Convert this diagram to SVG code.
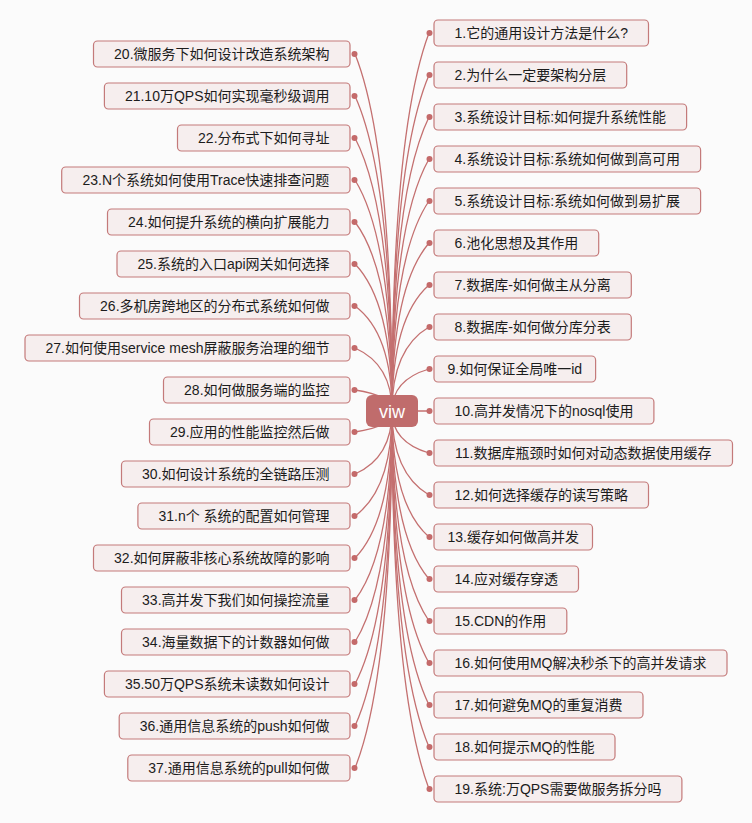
<svg xmlns="http://www.w3.org/2000/svg" width="752" height="823" viewBox="0 0 752 823">
<style>
.bg{fill:#fbfbfb}
.n rect{fill:#f6eeee;stroke:#c47a7a;stroke-width:1.2}
.n text{font-family:"Liberation Sans","Noto Sans CJK SC",sans-serif;font-size:14px;fill:#1c1c1c;text-anchor:middle}
.c path{fill:none;stroke:#c47070;stroke-width:1.3}
.c circle{fill:#c46a6a}
#root rect{fill:#c06c6c}
#root text{font-family:"Liberation Sans","Noto Sans CJK SC",sans-serif;font-size:18px;fill:#ffffff;text-anchor:middle}
</style>
<rect class="bg" x="0" y="0" width="752" height="823"/>
<g id="connectors" class="c">
<path d="M392,411 Q392,131.3 429,33"/>
<path d="M392,411 Q392,162.4 429,75"/>
<path d="M392,411 Q392,193.5 429,117"/>
<path d="M392,411 Q392,224.6 429,159"/>
<path d="M392,411 Q392,255.5 429,201"/>
<path d="M392,411 Q392,286.6 429,243"/>
<path d="M392,411 Q392,317.7 429,285"/>
<path d="M392,411 Q392,348.8 429,327"/>
<path d="M392,411 Q392,379.9 429,369"/>
<path d="M392,411 L429,411"/>
<path d="M392,411 Q392,442.1 429,453"/>
<path d="M392,411 Q392,473.2 429,495"/>
<path d="M392,411 Q392,504.3 429,537"/>
<path d="M392,411 Q392,535.4 429,579"/>
<path d="M392,411 Q392,566.5 429,621"/>
<path d="M392,411 Q392,597.6 429,663"/>
<path d="M392,411 Q392,628.7 429,705"/>
<path d="M392,411 Q392,659.8 429,747"/>
<path d="M392,411 Q392,690.7 429,789"/>
<path d="M392,411 Q392,146.8 355,54"/>
<path d="M392,411 Q392,177.9 355,96"/>
<path d="M392,411 Q392,209 355,138"/>
<path d="M392,411 Q392,240.1 355,180"/>
<path d="M392,411 Q392,271.2 355,222"/>
<path d="M392,411 Q392,302.3 355,264"/>
<path d="M392,411 Q392,333.4 355,306"/>
<path d="M392,411 Q392,364.5 355,348"/>
<path d="M392,411 Q392,395.5 355,390"/>
<path d="M392,411 Q392,426.6 355,432"/>
<path d="M392,411 Q392,457.7 355,474"/>
<path d="M392,411 Q392,488.8 355,516"/>
<path d="M392,411 Q392,519.9 355,558"/>
<path d="M392,411 Q392,551 355,600"/>
<path d="M392,411 Q392,582.1 355,642"/>
<path d="M392,411 Q392,613.2 355,684"/>
<path d="M392,411 Q392,644.3 355,726"/>
<path d="M392,411 Q392,675.4 355,768"/>
<circle cx="429.5" cy="33" r="3"/><circle cx="429.5" cy="75" r="3"/><circle cx="429.5" cy="117" r="3"/><circle cx="429.5" cy="159" r="3"/><circle cx="429.5" cy="201" r="3"/><circle cx="429.5" cy="243" r="3"/><circle cx="429.5" cy="285" r="3"/><circle cx="429.5" cy="327" r="3"/><circle cx="429.5" cy="369" r="3"/><circle cx="429.5" cy="411" r="3"/><circle cx="429.5" cy="453" r="3"/><circle cx="429.5" cy="495" r="3"/><circle cx="429.5" cy="537" r="3"/><circle cx="429.5" cy="579" r="3"/><circle cx="429.5" cy="621" r="3"/><circle cx="429.5" cy="663" r="3"/><circle cx="429.5" cy="705" r="3"/><circle cx="429.5" cy="747" r="3"/><circle cx="429.5" cy="789" r="3"/>
<circle cx="354.5" cy="54" r="3"/><circle cx="354.5" cy="96" r="3"/><circle cx="354.5" cy="138" r="3"/><circle cx="354.5" cy="180" r="3"/><circle cx="354.5" cy="222" r="3"/><circle cx="354.5" cy="264" r="3"/><circle cx="354.5" cy="306" r="3"/><circle cx="354.5" cy="348" r="3"/><circle cx="354.5" cy="390" r="3"/><circle cx="354.5" cy="432" r="3"/><circle cx="354.5" cy="474" r="3"/><circle cx="354.5" cy="516" r="3"/><circle cx="354.5" cy="558" r="3"/><circle cx="354.5" cy="600" r="3"/><circle cx="354.5" cy="642" r="3"/><circle cx="354.5" cy="684" r="3"/><circle cx="354.5" cy="726" r="3"/><circle cx="354.5" cy="768" r="3"/>
</g>
<g id="root"><rect x="366" y="395" width="52" height="32" rx="6"/><text x="392" y="417.5">viw</text></g>
<g id="n1" class="n"><rect x="434" y="20" width="214.5" height="26" rx="4"/><text x="541.2" y="38">1.它的通用设计方法是什么?</text></g>
<g id="n2" class="n"><rect x="434" y="62" width="192.7" height="26" rx="4"/><text x="530.3" y="80">2.为什么一定要架构分层</text></g>
<g id="n3" class="n"><rect x="434" y="104" width="252.6" height="26" rx="4"/><text x="560.3" y="122">3.系统设计目标:如何提升系统性能</text></g>
<g id="n4" class="n"><rect x="434" y="146" width="266.6" height="26" rx="4"/><text x="567.3" y="164">4.系统设计目标:系统如何做到高可用</text></g>
<g id="n5" class="n"><rect x="434" y="188" width="266.6" height="26" rx="4"/><text x="567.3" y="206">5.系统设计目标:系统如何做到易扩展</text></g>
<g id="n6" class="n"><rect x="434" y="230" width="164.7" height="26" rx="4"/><text x="516.3" y="248">6.池化思想及其作用</text></g>
<g id="n7" class="n"><rect x="434" y="272" width="197.3" height="26" rx="4"/><text x="532.7" y="290">7.数据库-如何做主从分离</text></g>
<g id="n8" class="n"><rect x="434" y="314" width="197.3" height="26" rx="4"/><text x="532.7" y="332">8.数据库-如何做分库分表</text></g>
<g id="n9" class="n"><rect x="434" y="356" width="161.6" height="26" rx="4"/><text x="514.8" y="374">9.如何保证全局唯一id</text></g>
<g id="n10" class="n"><rect x="434" y="398" width="219.9" height="26" rx="4"/><text x="544" y="416">10.高并发情况下的nosql使用</text></g>
<g id="n11" class="n"><rect x="434" y="440" width="298.5" height="26" rx="4"/><text x="583.3" y="458">11.数据库瓶颈时如何对动态数据使用缓存</text></g>
<g id="n12" class="n"><rect x="434" y="482" width="214.5" height="26" rx="4"/><text x="541.2" y="500">12.如何选择缓存的读写策略</text></g>
<g id="n13" class="n"><rect x="434" y="524" width="158.5" height="26" rx="4"/><text x="513.2" y="542">13.缓存如何做高并发</text></g>
<g id="n14" class="n"><rect x="434" y="566" width="144.5" height="26" rx="4"/><text x="506.2" y="584">14.应对缓存穿透</text></g>
<g id="n15" class="n"><rect x="434" y="608" width="132.8" height="26" rx="4"/><text x="500.4" y="626">15.CDN的作用</text></g>
<g id="n16" class="n"><rect x="434" y="650" width="293" height="26" rx="4"/><text x="580.5" y="668">16.如何使用MQ解决秒杀下的高并发请求</text></g>
<g id="n17" class="n"><rect x="434" y="692" width="209" height="26" rx="4"/><text x="538.5" y="710">17.如何避免MQ的重复消费</text></g>
<g id="n18" class="n"><rect x="434" y="734" width="181" height="26" rx="4"/><text x="524.5" y="752">18.如何提示MQ的性能</text></g>
<g id="n19" class="n"><rect x="434" y="776" width="247.9" height="26" rx="4"/><text x="558" y="794">19.系统:万QPS需要做服务拆分吗</text></g>
<g id="n20" class="n"><rect x="93.5" y="41" width="256.5" height="26" rx="4"/><text x="221.8" y="59">20.微服务下如何设计改造系统架构</text></g>
<g id="n21" class="n"><rect x="104.4" y="83" width="245.6" height="26" rx="4"/><text x="227.2" y="101">21.10万QPS如何实现毫秒级调用</text></g>
<g id="n22" class="n"><rect x="177.5" y="125" width="172.5" height="26" rx="4"/><text x="263.8" y="143">22.分布式下如何寻址</text></g>
<g id="n23" class="n"><rect x="61.7" y="167" width="288.3" height="26" rx="4"/><text x="205.9" y="185">23.N个系统如何使用Trace快速排查问题</text></g>
<g id="n24" class="n"><rect x="107.5" y="209" width="242.5" height="26" rx="4"/><text x="228.8" y="227">24.如何提升系统的横向扩展能力</text></g>
<g id="n25" class="n"><rect x="117" y="251" width="233" height="26" rx="4"/><text x="233.5" y="269">25.系统的入口api网关如何选择</text></g>
<g id="n26" class="n"><rect x="79.5" y="293" width="270.5" height="26" rx="4"/><text x="214.8" y="311">26.多机房跨地区的分布式系统如何做</text></g>
<g id="n27" class="n"><rect x="25" y="335" width="325" height="26" rx="4"/><text x="187.5" y="353">27.如何使用service mesh屏蔽服务治理的细节</text></g>
<g id="n28" class="n"><rect x="163.5" y="377" width="186.5" height="26" rx="4"/><text x="256.8" y="395">28.如何做服务端的监控</text></g>
<g id="n29" class="n"><rect x="149.5" y="419" width="200.5" height="26" rx="4"/><text x="249.8" y="437">29.应用的性能监控然后做</text></g>
<g id="n30" class="n"><rect x="121.5" y="461" width="228.5" height="26" rx="4"/><text x="235.8" y="479">30.如何设计系统的全链路压测</text></g>
<g id="n31" class="n"><rect x="137.9" y="503" width="212.1" height="26" rx="4"/><text x="244" y="521">31.n个 系统的配置如何管理</text></g>
<g id="n32" class="n"><rect x="93.5" y="545" width="256.5" height="26" rx="4"/><text x="221.8" y="563">32.如何屏蔽非核心系统故障的影响</text></g>
<g id="n33" class="n"><rect x="121.5" y="587" width="228.5" height="26" rx="4"/><text x="235.8" y="605">33.高并发下我们如何操控流量</text></g>
<g id="n34" class="n"><rect x="121.5" y="629" width="228.5" height="26" rx="4"/><text x="235.8" y="647">34.海量数据下的计数器如何做</text></g>
<g id="n35" class="n"><rect x="104.4" y="671" width="245.6" height="26" rx="4"/><text x="227.2" y="689">35.50万QPS系统未读数如何设计</text></g>
<g id="n36" class="n"><rect x="119.2" y="713" width="230.8" height="26" rx="4"/><text x="234.6" y="731">36.通用信息系统的push如何做</text></g>
<g id="n37" class="n"><rect x="127.8" y="755" width="222.2" height="26" rx="4"/><text x="238.9" y="773">37.通用信息系统的pull如何做</text></g>
</svg>
